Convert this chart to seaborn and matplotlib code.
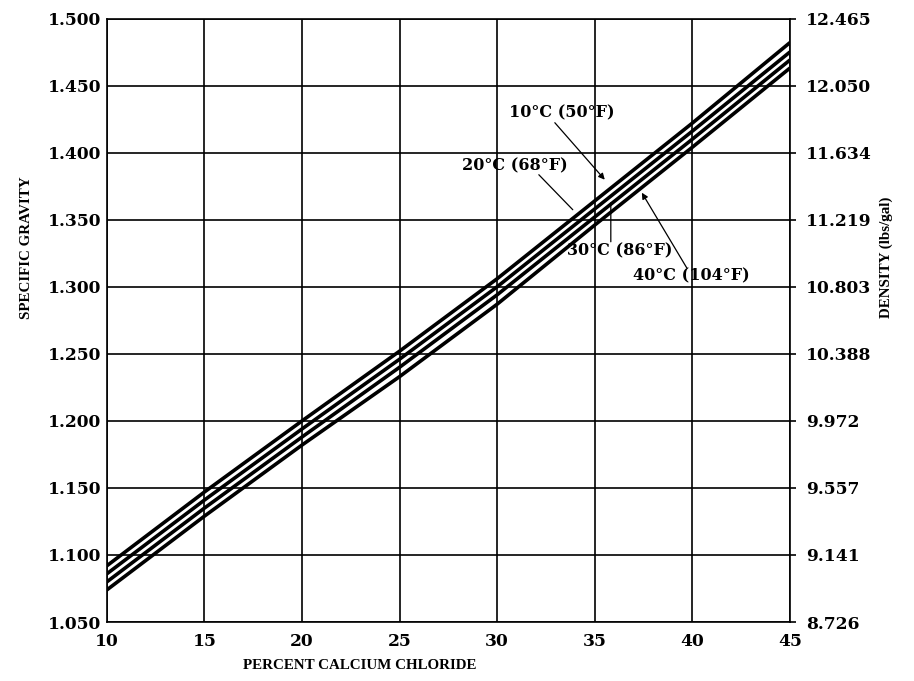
import matplotlib
matplotlib.use("Agg")
import matplotlib.pyplot as plt
import seaborn as sns
import pandas as pd

percent = [10, 15, 20, 25, 30, 35, 40, 45]
sg_10c = [1.092, 1.147, 1.200, 1.252, 1.306, 1.364, 1.422, 1.482]
sg_20c = [1.086, 1.141, 1.194, 1.246, 1.300, 1.358, 1.416, 1.475]
sg_30c = [1.080, 1.135, 1.188, 1.240, 1.294, 1.352, 1.410, 1.469]
sg_40c = [1.074, 1.129, 1.182, 1.233, 1.287, 1.346, 1.404, 1.463]
series_names = ["10°C (50°F)", "20°C (68°F)", "30°C (86°F)", "40°C (104°F)"]

y_ticks = [1.050, 1.100, 1.150, 1.200, 1.250, 1.300, 1.350, 1.400, 1.450, 1.500]
y_tick_labels = ["1.050", "1.100", "1.150", "1.200", "1.250", "1.300", "1.350", "1.400", "1.450", "1.500"]
density_labels = ["8.726", "9.141", "9.557", "9.972", "10.388", "10.803", "11.219", "11.634", "12.050", "12.465"]
x_ticks = [10, 15, 20, 25, 30, 35, 40, 45]

rows = []
for name, vals in zip(series_names, [sg_10c, sg_20c, sg_30c, sg_40c]):
    for p, v in zip(percent, vals):
        rows.append({"percent": p, "sg": v, "temp": name})
df = pd.DataFrame(rows)

sns.set_style("white")
plt.rcParams["font.family"] = ["DejaVu Serif"]
plt.rcParams["text.color"] = "black"
plt.rcParams["axes.labelcolor"] = "black"
plt.rcParams["xtick.color"] = "black"
plt.rcParams["ytick.color"] = "black"

fig = plt.figure(figsize=(9.14, 6.81), dpi=100)
ax = fig.add_axes([0.117, 0.0866, 0.747, 0.886])

sns.lineplot(data=df, x="percent", y="sg", hue="temp", palette=["black"] * 4,
             linewidth=2.6, legend=False, ax=ax, zorder=3)

tick_fs = 12.3
ax.set_xlim(10, 45)
ax.set_ylim(1.050, 1.500)
ax.set_xticks(x_ticks)
ax.set_xticklabels([str(t) for t in x_ticks], fontweight="bold", fontsize=tick_fs)
ax.set_yticks(y_ticks)
ax.set_yticklabels(y_tick_labels, fontweight="bold", fontsize=tick_fs)
ax.grid(True, color="black", linewidth=1.2)
ax.tick_params(axis="both", length=0)
ax.tick_params(axis="y", pad=4)
ax.tick_params(axis="x", pad=8)
for s in ax.spines.values():
    s.set_color("black")
    s.set_linewidth(1.2)

lab_font = dict(family="Liberation Serif", fontweight="bold", fontsize=10.8)
ax.set_xlabel("PERCENT CALCIUM CHLORIDE", **lab_font)
ax.xaxis.set_label_coords(0.37, -0.062)
ax.set_ylabel("SPECIFIC GRAVITY", **lab_font)
ax.yaxis.set_label_coords(-0.108, 0.62)

ax2 = ax.twinx()
ax2.set_ylim(1.050, 1.500)
ax2.set_yticks(y_ticks)
ax2.set_yticklabels(density_labels, fontweight="bold", fontsize=tick_fs)
ax2.tick_params(axis="y", length=4, width=1.2, color="black", pad=8)
ax2.set_ylabel("DENSITY (lbs/gal)", **lab_font)
ax2.yaxis.set_label_coords(1.132, 0.604)
for s in ax2.spines.values():
    s.set_visible(False)

ann_font = dict(fontweight="bold", fontsize=11.5, family="DejaVu Serif",
                ha="center", va="center")
arrow_head = dict(arrowstyle="-|>", color="black", lw=0.9, shrinkA=0, shrinkB=0,
                  mutation_scale=9)
arrow_line = dict(arrowstyle="-", color="black", lw=0.9, shrinkA=0, shrinkB=0)

ax.text(33.32, 1.4295, series_names[0], **ann_font)
ax.annotate("", xy=(35.52, 1.3799), xytext=(32.96, 1.4224), arrowprops=arrow_head)

ax.text(30.93, 1.3900, series_names[1], **ann_font)
ax.annotate("", xy=(33.88, 1.3575), xytext=(32.14, 1.3836), arrowprops=arrow_line)

ax.text(36.26, 1.3266, series_names[2], **ann_font)
ax.annotate("", xy=(35.83, 1.3627), xytext=(35.83, 1.3336), arrowprops=arrow_line)

ax.text(39.95, 1.3079, series_names[3], **ann_font)
ax.annotate("", xy=(37.42, 1.3702), xytext=(39.72, 1.3142), arrowprops=arrow_head)

fig.savefig("out.png", dpi=100)
